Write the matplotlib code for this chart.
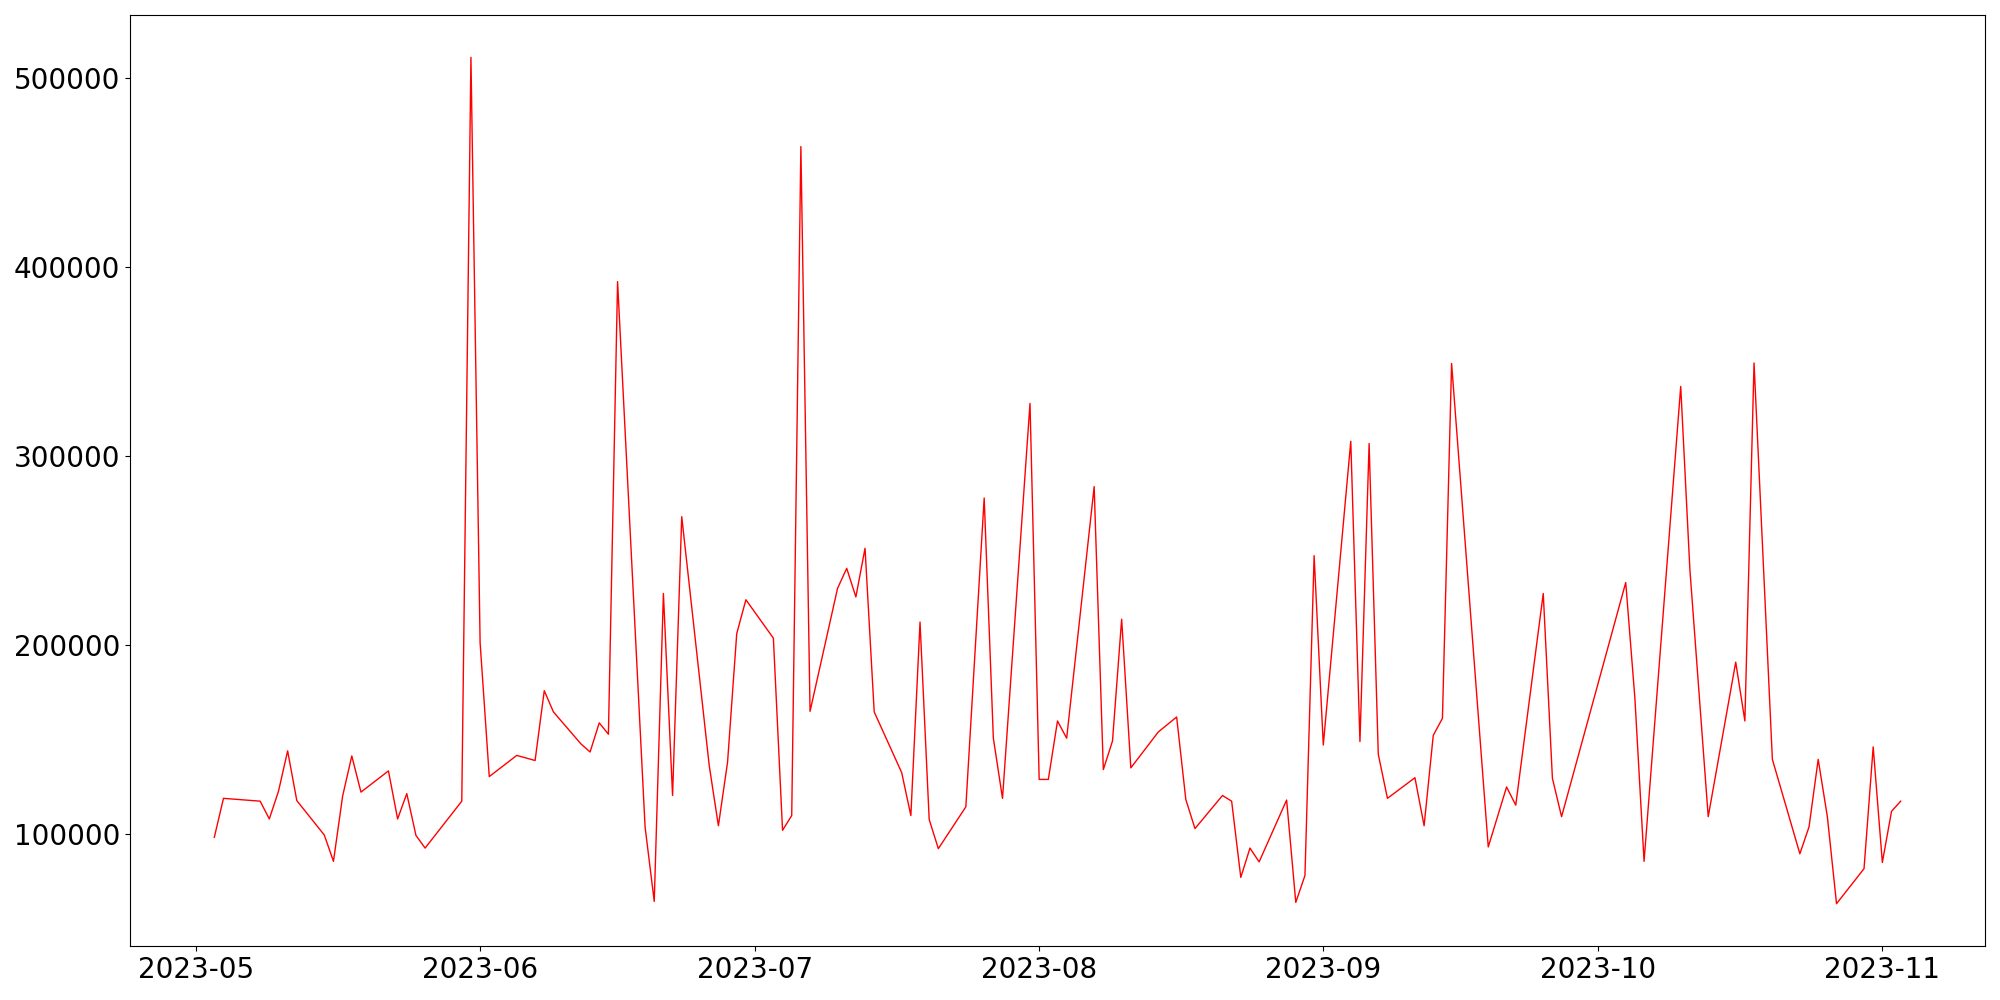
import numpy as np
import pandas as pd
from matplotlib import pyplot as plt
import matplotlib

matplotlib.use("Agg")

dates = ["2023-05-03", "2023-05-04", "2023-05-08", "2023-05-09", "2023-05-10",
         "2023-05-11", "2023-05-12", "2023-05-15", "2023-05-16", "2023-05-17",
         "2023-05-18", "2023-05-19", "2023-05-22", "2023-05-23", "2023-05-24",
         "2023-05-25", "2023-05-26", "2023-05-30", "2023-05-31", "2023-06-01",
         "2023-06-02", "2023-06-05", "2023-06-07", "2023-06-08", "2023-06-09",
         "2023-06-12", "2023-06-13", "2023-06-14", "2023-06-15", "2023-06-16",
         "2023-06-19", "2023-06-20", "2023-06-21", "2023-06-22", "2023-06-23",
         "2023-06-26", "2023-06-27", "2023-06-28", "2023-06-29", "2023-06-30",
         "2023-07-03", "2023-07-04", "2023-07-05", "2023-07-06", "2023-07-07",
         "2023-07-10", "2023-07-11", "2023-07-12", "2023-07-13", "2023-07-14",
         "2023-07-17", "2023-07-18", "2023-07-19", "2023-07-20", "2023-07-21",
         "2023-07-24", "2023-07-26", "2023-07-27", "2023-07-28", "2023-07-31",
         "2023-08-01", "2023-08-02", "2023-08-03", "2023-08-04", "2023-08-07",
         "2023-08-08", "2023-08-09", "2023-08-10", "2023-08-11", "2023-08-14",
         "2023-08-16", "2023-08-17", "2023-08-18", "2023-08-21", "2023-08-22",
         "2023-08-23", "2023-08-24", "2023-08-25", "2023-08-28", "2023-08-29",
         "2023-08-30", "2023-08-31", "2023-09-01", "2023-09-04", "2023-09-05",
         "2023-09-06", "2023-09-07", "2023-09-08", "2023-09-11", "2023-09-12",
         "2023-09-13", "2023-09-14", "2023-09-15", "2023-09-19", "2023-09-21",
         "2023-09-22", "2023-09-25", "2023-09-26", "2023-09-27", "2023-10-04",
         "2023-10-05", "2023-10-06", "2023-10-10", "2023-10-11", "2023-10-13",
         "2023-10-16", "2023-10-17", "2023-10-18", "2023-10-20", "2023-10-23",
         "2023-10-24", "2023-10-25", "2023-10-26", "2023-10-27", "2023-10-30",
         "2023-10-31", "2023-11-01", "2023-11-02", "2023-11-03"]

values = [98500, 119100, 117600, 108200, 122800,
          144200, 117900, 99700, 85800, 120300,
          141500, 122400, 133600, 108200, 121600,
          99500, 92800, 117600, 510900, 201400,
          130600, 141800, 139100, 176000, 164800,
          147900, 143600, 159000, 153000, 392300,
          104000, 64600, 227400, 120600, 268000,
          136400, 104600, 138200, 206200, 224100,
          203800, 102200, 110000, 463700, 165100,
          230100, 240700, 225600, 251300, 164800,
          132700, 110000, 212300, 107900, 92500,
          114600, 277900, 150900, 119100, 327900,
          129100, 129100, 160000, 150900, 283900,
          134300, 149400, 213800, 135200, 154200,
          162100, 118500, 103100, 120600, 117600,
          77300, 92800, 85500, 118200, 64100,
          78300, 247400, 147300, 307900, 149100,
          306700, 142400, 119100, 130000, 104600,
          152400, 161400, 349000, 93400, 125100,
          115500, 227400, 129700, 109400, 233200,
          172000, 85800, 336900, 240100, 109400,
          191100, 160000, 349300, 139700, 89800,
          104000, 139700, 109400, 63400, 81900,
          146300, 85200, 112200, 117600]

x = pd.to_datetime(dates)

fig, ax = plt.subplots(figsize=(20, 10), dpi=100)
ax.plot(x, values, color="red", lw=1)
ax.tick_params(labelsize=20)
plt.subplots_adjust(left=0.065, right=0.9925, top=0.985, bottom=0.054)
plt.savefig("out.png")
